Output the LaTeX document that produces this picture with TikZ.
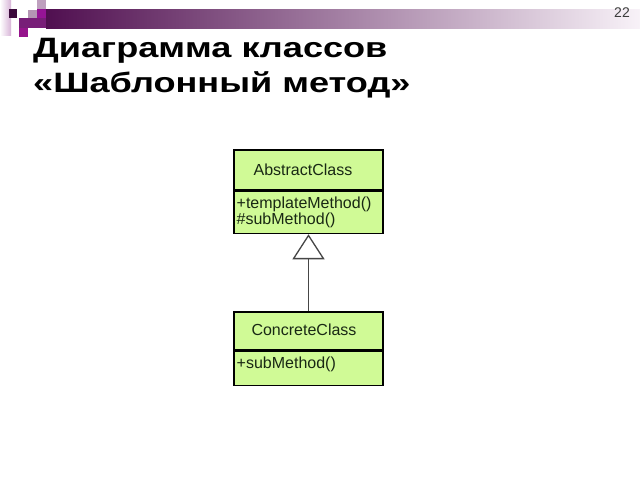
\documentclass[tikz,border=0pt]{standalone}
\usepackage{fontspec}
\setmainfont{Liberation Sans}
\newfontfamily\titlefont[FakeStretch=1.29]{Liberation Sans}
\usetikzlibrary{arrows.meta}
\definecolor{umlfill}{RGB}{208,250,150}
\definecolor{umltext}{RGB}{25,40,20}
\definecolor{bardark}{RGB}{80,15,80}
\definecolor{barmid}{RGB}{160,110,155}
\definecolor{barlight}{RGB}{248,242,248}
\definecolor{stripend}{RGB}{215,180,215}
\definecolor{sqpurple}{RGB}{120,30,120}
\definecolor{sqdark}{RGB}{60,10,60}
\definecolor{sqmauve}{RGB}{180,150,180}
\definecolor{sqmauvetop}{RGB}{190,160,190}
\definecolor{sqmagenta}{RGB}{150,20,150}
\definecolor{sqmagentab}{RGB}{150,20,140}
\definecolor{pagegray}{RGB}{60,60,60}
\definecolor{linkgray}{RGB}{70,70,70}
\tikzset{
  classpart/.style={draw=black, line width=1.5pt, fill=umlfill, minimum width=149pt, inner sep=0pt},
  umllabel/.style={text=umltext, font=\fontsize{16}{16}\selectfont, inner sep=0pt},
  titletext/.style={font=\titlefont\fontsize{28}{28}\selectfont\bfseries, inner sep=0pt, anchor=base west},
}
\begin{document}
\begin{tikzpicture}[x=1pt,y=-1pt]
\useasboundingbox (0,0) rectangle (640,480);
\fill[white] (0,0) rectangle (640,480);
% decoration
\shade[left color=white, right color=stripend] (0,0) rectangle (11,35);
\shade[left color=bardark, middle color=barmid, right color=barlight] (46,9) rectangle (640,28);
\fill[sqpurple] (19,18) rectangle (46,28);
\fill[sqdark] (9,9) rectangle (17,18);
\fill[sqmauve] (28,10) rectangle (37,18);
\fill[sqmauvetop] (37,0) rectangle (46,9);
\fill[sqmagenta] (37,9) rectangle (46,18);
\fill[sqmagentab] (19,28) rectangle (28,37);
\node[text=pagegray, font=\fontsize{14}{14}\selectfont, inner sep=0pt, anchor=base east] (pagenum) at (630,17.3) {22};
% title
\node[titletext] (title1) at (33,57) {Диаграмма классов};
\node[titletext] (title2) at (33,92.5) {«Шаблонный метод»};
% classes
\node[classpart, minimum height=40pt] (absHead) at (308.5,170) {};
\node[classpart, minimum height=42pt, anchor=north] (absBody) at (absHead.south) {};
\node[umllabel, anchor=base] (absName) at (303,175.7) {AbstractClass};
\node[umllabel, anchor=base west] (absM1) at (236.5,208.3) {+templateMethod()};
\node[umllabel, anchor=base west] (absM2) at (236.5,224.3) {\#subMethod()};
\node[classpart, minimum height=38pt] (conHead) at (308.5,331) {};
\node[classpart, minimum height=34pt, anchor=north] (conBody) at (conHead.south) {};
\node[umllabel, anchor=base] (conName) at (304,335) {ConcreteClass};
\node[umllabel, anchor=base west] (conM1) at (236.5,368) {+subMethod()};
% generalization
\draw[line width=1pt, draw=linkgray, -{Triangle[open, width=32pt, length=25pt, line width=1.3pt]}] (conHead.north) -- (absBody.south);
\end{tikzpicture}
\end{document}
